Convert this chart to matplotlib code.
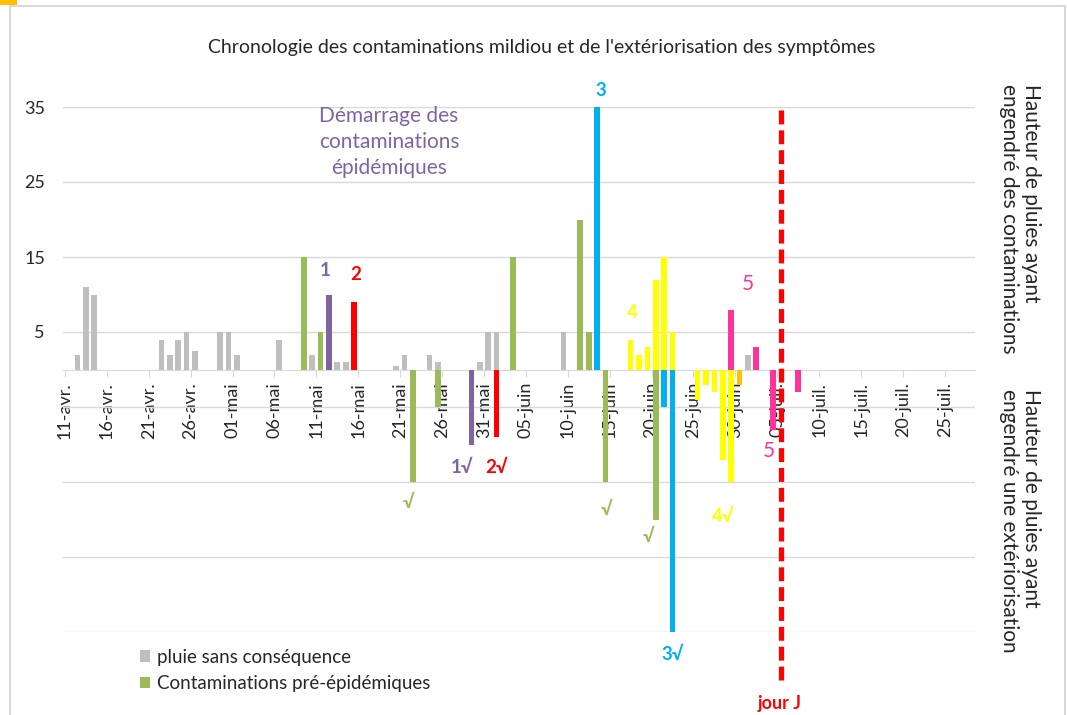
import datetime as dt
import matplotlib
matplotlib.use("Agg")
import matplotlib.pyplot as plt
import matplotlib.dates as mdates
from matplotlib.patches import Rectangle

plt.rcParams['font.family'] = ['Lato', 'DejaVu Sans']
plt.rcParams['lines.scale_dashes'] = False

YEAR = 2021
# ---------------- data ----------------
gray_dates = ['04-12', '04-13', '04-14', '04-22', '04-23', '04-24', '04-25', '04-26',
              '04-29', '04-30', '05-01', '05-06', '05-10', '05-13', '05-14', '05-20',
              '05-21', '05-24', '05-25', '05-30', '05-31', '06-01', '06-09', '07-01']
gray_vals = [2, 11, 10, 4, 2, 4, 5, 2.5, 5, 5, 2, 4, 2, 1, 1, 0.5, 2, 2, 1, 1, 5, 5, 5, 2]

green_dates = ['05-09', '05-11', '06-03', '06-11', '06-12']
green_vals = [15, 5, 15, 20, 5]
green_ext_dates = ['05-22', '05-25', '06-14', '06-20']
green_ext_vals = [-15, -5, -15, -20]

purple_dates = ['05-12', '05-29']
purple_vals = [10, -10]
red_dates = ['05-15', '06-01']
red_vals = [9, -9]
blue_dates = ['06-13', '06-21', '06-22']
blue_vals = [35, -5, -35]
yellow_dates = ['06-17', '06-18', '06-19', '06-20', '06-21', '06-22',
                '06-25', '06-26', '06-27', '06-28', '06-29']
yellow_vals = [4, 2, 3, 12, 15, 5, -4, -2, -3, -12, -15]
orange_dates = ['06-30']
orange_vals = [-2]
pink_dates = ['06-29', '07-02', '07-04', '07-07']
pink_vals = [8, 3, -8, -3]

jour_j_date = '07-05'
tick_start = '04-11'
tick_end = '07-25'
month_abbr = {4: 'avr.', 5: 'mai', 6: 'juin', 7: 'juil.'}
ytick_vals = [-35, -25, -15, -5, 5, 15, 25, 35]

title = "Chronologie des contaminations mildiou et de l'extériorisation des symptômes"
legend_labels = ['pluie sans conséquence', 'Contaminations pré-épidémiques']

# ---------------- helpers ----------------
def d(s):
    m, day = s.split('-')
    return mdates.date2num(dt.date(YEAR, int(m), int(day)))

def xs(lst):
    return [d(s) + 0.5 for s in lst]

W, H = 1067, 715
fig = plt.figure(figsize=(W / 100, H / 100), dpi=100)
ax = fig.add_axes([63 / W, 1 - 632 / H, (975 - 63) / W, (632 - 107) / H])

for s in ['top', 'right', 'left']:
    ax.spines[s].set_visible(False)
ax.spines['bottom'].set_position(('data', 0))
ax.spines['bottom'].set_color('#D9D9D9')
ax.spines['bottom'].set_zorder(1)
ax.set_axisbelow(True)

C_GRAY = '#BFBFBF'
C_GREEN = '#9BBB59'
C_PURPLE = '#8064A2'
C_RED = '#FF0000'
C_BLUE = '#00B0F0'
C_YELLOW = '#FFFF00'
C_ORANGE = '#FFC000'
C_PINK = '#FF3399'
BW = 0.68

b_gray = ax.bar(xs(gray_dates), gray_vals, width=BW, color=C_GRAY, zorder=3)
b_green = ax.bar(xs(green_dates), green_vals, width=BW, color=C_GREEN, zorder=3)
ax.bar(xs(green_ext_dates), green_ext_vals, width=BW, color=C_GREEN, zorder=3)
ax.bar(xs(purple_dates), purple_vals, width=BW, color=C_PURPLE, zorder=3)
ax.bar(xs(red_dates), red_vals, width=BW, color=C_RED, zorder=3)
ax.bar(xs(blue_dates), blue_vals, width=BW, color=C_BLUE, zorder=3)
ax.bar(xs(yellow_dates), yellow_vals, width=BW, color=C_YELLOW, zorder=3)
ax.bar(xs(orange_dates), orange_vals, width=BW, color=C_ORANGE, zorder=3)
ax.bar(xs(pink_dates), pink_vals, width=BW, color=C_PINK, zorder=3)

x0 = d(tick_start)
ax.set_xlim(x0 - 0.24, x0 + 108.6)
ax.set_ylim(-35, 35)

# x ticks every 5 days
tick_pos = []
tick_labels = []
t = x0
while t <= d(tick_end) + 0.01:
    dd = mdates.num2date(t)
    tick_pos.append(t)
    tick_labels.append(f"{dd.day:02d}-{month_abbr[dd.month]}")
    t += 5
ax.set_xticks(tick_pos)
ax.set_xticklabels(tick_labels, rotation=90, fontsize=13, color='#262626')
ax.tick_params(axis='x', direction='out', length=5, color='#D9D9D9', pad=4)

ax.set_yticks(ytick_vals)
ax.set_yticklabels([str(v) if v > 0 else '' for v in ytick_vals], fontsize=13, color='#262626')
ax.tick_params(axis='y', length=0, pad=13)
ax.grid(axis='y', color='#D9D9D9', lw=1, zorder=0)

# jour J dashed line
xj = d(jour_j_date) + 0.45
ax.plot([xj, xj], [34.6, -41.4], color=C_RED, lw=3.8, dashes=(10, 4.3),
        clip_on=False, zorder=5)

# annotations
def lab(px, py, s, c, size=13.5, bold=True):
    ax.text(x0 + (px - 65) / 8.38, (369.5 - py) / 7.5, s, color=c, fontsize=size,
            fontweight='bold' if bold else 'normal', ha='center', va='center',
            clip_on=False, zorder=6)

lab(325, 271, '1', C_PURPLE)
lab(356, 274, '2', C_RED)
lab(601, 90, '3', C_BLUE)
lab(632, 313, '4', C_YELLOW)
lab(748, 284, '5', C_PINK, bold=False, size=15)
lab(769, 451, '5', C_PINK, bold=False, size=15)
lab(462, 467, '1√', C_PURPLE)
lab(497, 467, '2√', C_RED)
lab(409, 502, '√', C_GREEN)
lab(607, 509, '√', C_GREEN)
lab(649, 536, '√', C_GREEN)
lab(673, 654, '3√', C_BLUE)
lab(723, 516, '4√', C_YELLOW)
lab(780, 703, 'jour J', C_RED, size=13)

ax.text(x0 + (389 - 65) / 8.38, (369.5 - 142) / 7.5,
        'Démarrage des\ncontaminations\népidémiques', color=C_PURPLE, fontsize=15,
        ha='center', va='center', linespacing=1.35, zorder=6)

fig.text(542 / W, 1 - 48 / H, title, fontsize=14, ha='center', va='center', color='#262626')

# right side labels
fig.text(1041 / W, 1 - 84 / H, 'Hauteur de pluies ayant\nengendré des contaminations',
         rotation=-90, rotation_mode='anchor', ha='left', va='top', fontsize=15,
         color='#262626', linespacing=1.15, multialignment='left')
fig.text(1041 / W, 1 - 389 / H, 'Hauteur de pluies ayant\nengendré une extériorisation',
         rotation=-90, rotation_mode='anchor', ha='left', va='top', fontsize=15,
         color='#262626', linespacing=1.15, multialignment='left')

# legend
leg = fig.legend([b_gray, b_green], legend_labels, loc='upper left',
                 bbox_to_anchor=(132 / W, 1 - 641 / H), frameon=False, fontsize=13.5,
                 handlelength=0.55, handleheight=0.55, handletextpad=0.4,
                 labelspacing=0.5, borderaxespad=0)
for tx in leg.get_texts():
    tx.set_color('#262626')

# chart frame and corner mark
fig.patches.append(Rectangle((10 / W, -0.05), (1065 - 10) / W, 1.05 - 6 / H,
                             transform=fig.transFigure, fill=False, ec='#D9D9D9', lw=1.5))
fig.patches.append(Rectangle((0, 1 - 5 / H), 17 / W, 5 / H, transform=fig.transFigure,
                             color='#FFC000', lw=0))

fig.savefig('out.png', dpi=100)
